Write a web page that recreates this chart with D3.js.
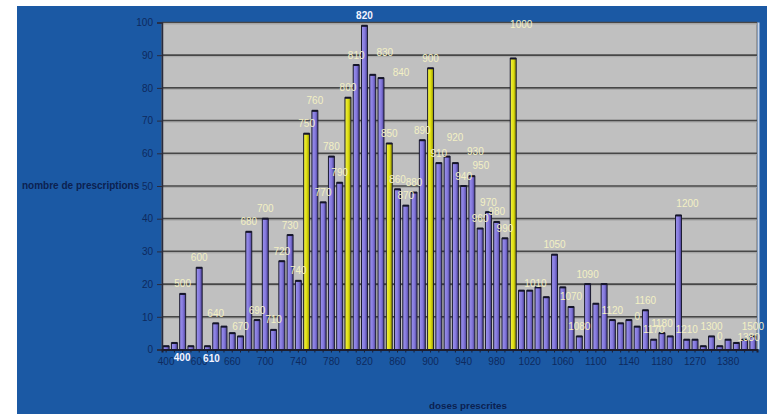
<!DOCTYPE html>
<html><head><meta charset="utf-8">
<script src="https://cdn.jsdelivr.net/npm/d3@7"></script>
<style>html,body{margin:0;padding:0;background:#fff;}svg{display:block;}text{font-family:Arial,"Liberation Sans",sans-serif;}</style>
</head><body>
<svg id="chart" width="767" height="414"></svg>
<script>
const categories = [400,450,500,550,600,610,640,650,660,670,680,690,700,710,720,730,740,750,760,770,780,790,800,810,820,830,840,850,860,870,880,890,900,910,920,930,940,950,960,970,980,990,1000,1010,1020,1030,1040,1050,1060,1070,1080,1090,1100,1110,1120,1130,1140,1150,1160,1170,1180,1190,1200,1210,1270,1280,1300,1350,1380,1400,1450,1500];
const counts = [1,2,17,1,25,1,8,7,5,4,36,9,40,6,27,35,21,66,73,45,59,51,77,87,99,84,83,63,49,44,48,64,86,57,59,57,50,53,37,42,39,34,89,18,18,19,16,29,19,13,4,20,14,20,9,8,9,7,12,3,5,4,41,3,3,1,4,1,3,2,3,4];
const highlighted = [750,800,850,900,1000];
const xTickLabels = [400,600,660,700,740,780,820,860,900,940,980,1020,1060,1100,1140,1180,1270,1380];
const yTicks = [0,10,20,30,40,50,60,70,80,90,100];
// data label text shown above bars (category -> text)
const barLabelText = {400:"400",500:"500",600:"600",610:"610",640:"640",670:"670",680:"680",690:"690",700:"700",710:"710",720:"720",730:"730",740:"740",750:"750",760:"760",770:"770",780:"780",790:"790",800:"800",810:"810",820:"820",830:"830",840:"840",850:"850",860:"860",870:"870",880:"880",890:"890",900:"900",910:"910",920:"920",930:"930",940:"940",950:"950",960:"960",970:"970",980:"980",990:"990",1000:"1000",1010:"1010",1050:"1050",1070:"1070",1080:"1080",1090:"1090",1120:"1120",1150:"0",1160:"1160",1170:"1170",1180:"1180",1200:"1200",1210:"1210",1300:"1300",1350:"0",1450:"1380",1500:"1500"};
const boldLabels = [400,610,820];
// manual label nudges (px), as dragged in the original
const labelNudge = {400:[16,21],610:[4,22],830:[12,-12],840:[20,4],920:[8,-9],930:[20,-2],950:[9,-1],1000:[8,-24],1010:[14,3],1200:[9,-2],1450:[4,8]};

const svg = d3.select("#chart");
const W = 767, H = 414;
const plot = {left:162, right:757, top:22.5, bottom:349.5};

svg.append("rect").attr("x",17).attr("y",6).attr("width",W-17).attr("height",H-6).attr("fill","#1b59a4");

const x = d3.scaleBand().domain(categories).range([plot.left, plot.right]).paddingInner(0.28).paddingOuter(0.14);
const y = d3.scaleLinear().domain([0,100]).range([plot.bottom, plot.top]);

// plot area
svg.append("rect").attr("x",plot.left).attr("y",plot.top).attr("width",plot.right-plot.left).attr("height",plot.bottom-plot.top)
  .attr("fill","#c0c0c0").attr("stroke","#6d6d6d").attr("stroke-width",1);
svg.append("line").attr("x1",plot.right+1.5).attr("x2",plot.right+1.5).attr("y1",plot.top).attr("y2",plot.bottom)
  .attr("stroke","#c9d6ea").attr("stroke-width",2);

// gridlines
const grid = svg.append("g");
grid.selectAll("line.g").data(yTicks.filter(d=>d>0)).join("line")
  .attr("x1",plot.left).attr("x2",plot.right).attr("y1",d=>y(d)).attr("y2",d=>y(d))
  .attr("stroke","#474747").attr("stroke-width",1.7);
grid.selectAll("line.s").data(yTicks.filter(d=>d>0)).join("line")
  .attr("x1",plot.left).attr("x2",plot.right).attr("y1",d=>y(d)+1.5).attr("y2",d=>y(d)+1.5)
  .attr("stroke","#a8a8a8").attr("stroke-width",1);

// y axis
const yAxis = d3.axisLeft(y).tickValues(yTicks).tickSize(5).tickPadding(4);
const gy = svg.append("g").attr("transform",`translate(${plot.left},0)`).call(yAxis);
gy.select(".domain").attr("stroke","#2a2a3a").attr("stroke-width",1.5);
gy.selectAll(".tick line").attr("stroke","#2a2a3a");
gy.selectAll(".tick text").attr("fill","#0e2a5e").attr("font-size","10px").attr("font-family","Arial, 'Liberation Sans', sans-serif");

// x axis
const xAxis = d3.axisBottom(x).tickValues(categories).tickSize(3).tickPadding(5)
  .tickFormat(d => xTickLabels.includes(d) ? String(d) : "");
const gx = svg.append("g").attr("transform",`translate(0,${plot.bottom})`).call(xAxis);
gx.select(".domain").attr("stroke","#1e1e2e").attr("stroke-width",2);
gx.selectAll(".tick line").attr("stroke","#1e1e2e");
gx.selectAll(".tick text").attr("fill","#0e2a5e").attr("font-size","10px").attr("font-family","Arial, 'Liberation Sans', sans-serif");

// gradients
const defs = svg.append("defs");
function grad(id, c1, c2, c3){
  const g = defs.append("linearGradient").attr("id",id).attr("x1","0").attr("x2","1").attr("y1","0").attr("y2","0");
  g.append("stop").attr("offset","0").attr("stop-color",c1);
  g.append("stop").attr("offset","0.55").attr("stop-color",c2);
  g.append("stop").attr("offset","1").attr("stop-color",c3);
}
grad("gp","#9d95ee","#8478dc","#4a4096");
grad("gy","#f2f24a","#dede10","#8a8a00");

// bars
const bw = x.bandwidth();
const bars = svg.append("g");
const data = categories.map((c,i)=>({c, v:counts[i]}));
bars.selectAll("rect.bar").data(data).join("rect").attr("class","bar")
  .attr("x",d=>x(d.c)).attr("y",d=>y(d.v)).attr("width",bw).attr("height",d=>y(0)-y(d.v))
  .attr("fill",d=>highlighted.includes(d.c)?"url(#gy)":"url(#gp)")
  .attr("stroke","#1a1a2e").attr("stroke-width",1);
bars.selectAll("rect.cap").data(data).join("rect").attr("class","cap")
  .attr("x",d=>x(d.c)).attr("y",d=>y(d.v)-1).attr("width",bw).attr("height",2)
  .attr("fill","#15152a");

// data labels
const lab = data.filter(d=>barLabelText[d.c]!==undefined);
svg.append("g").selectAll("text").data(lab).join("text")
  .attr("x",d=>x(d.c)+bw/2+((labelNudge[d.c]||[0,0])[0]))
  .attr("y",d=>y(d.v)-10+((labelNudge[d.c]||[0,0])[1]))
  .attr("dy","0.35em").attr("text-anchor","middle")
  .attr("font-size","10px")
  .attr("font-weight",d=>boldLabels.includes(d.c)?"bold":"normal")
  .attr("fill",d=>boldLabels.includes(d.c)?"#f4f4ff":"#f3f0c4")
  .text(d=>barLabelText[d.c]);

// axis titles
svg.append("text").attr("x",22).attr("y",185).attr("dy","0.35em")
  .attr("font-size","10px").attr("font-weight","bold").attr("fill","#0c2150")
  .text("nombre de prescriptions");
svg.append("text").attr("x",468).attr("y",406).attr("dy","0.35em").attr("text-anchor","middle")
  .attr("font-size","9.8px").attr("font-weight","bold").attr("fill","#0c2150")
  .text("doses prescrites");
</script>
</body></html>
